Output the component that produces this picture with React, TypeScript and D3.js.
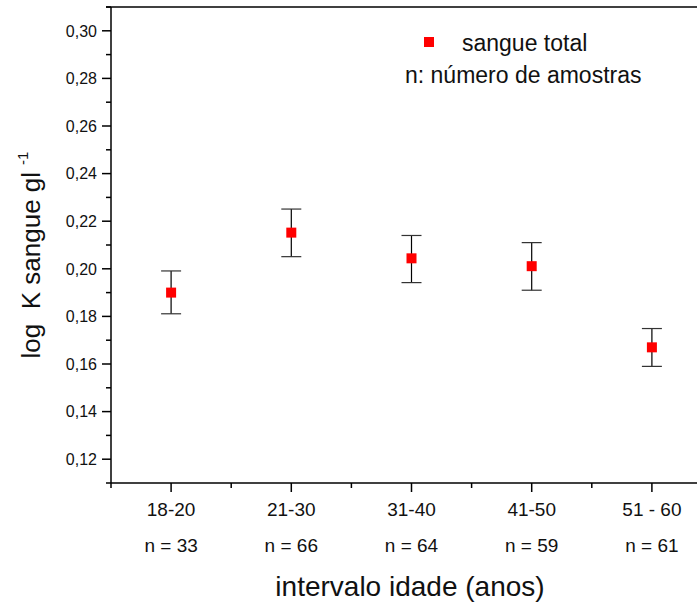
import React from "react";
import * as d3 from "d3";

const categories = ["18-20", "21-30", "31-40", "41-50", "51 - 60"];
const sampleSizes = ["n = 33", "n = 66", "n = 64", "n = 59", "n = 61"];
const means = [0.190, 0.2152, 0.2044, 0.2011, 0.167];
const upper = [0.1991, 0.2251, 0.2140, 0.2110, 0.1749];
const lower = [0.1811, 0.2051, 0.1942, 0.1910, 0.1590];
const yMajorTicks = [0.12, 0.14, 0.16, 0.18, 0.2, 0.22, 0.24, 0.26, 0.28, 0.3];
const yMinorTicks = [0.11, 0.13, 0.15, 0.17, 0.19, 0.21, 0.23, 0.25, 0.27, 0.29, 0.31];
const xMinorTicks = [0.5, 1.5, 2.5, 3.5, 4.5, 5.5];
const legendSeries = "sangue total";
const legendNote = "n: número de amostras";
const xTitle = "intervalo idade (anos)";
const yTitle = "log\u00A0\u00A0K sangue gl";
const yTitleSup = "-1";

const W = 697;
const H = 607;
const left = 111;
const top = 7;
const bottom = 483;
const FONT = "Arial, 'Liberation Sans', Helvetica, sans-serif";

export default function App() {
  const x = d3.scaleLinear().domain([0.5, 5.5]).range([left, 712]);
  const y = d3.scaleLinear().domain([0.11, 0.31]).range([bottom, top]);
  const fmt = (v: number) => d3.format(".2f")(v).replace(".", ",");
  const ms = 10;
  const cap = 10;
  return (
    <svg
      width={W}
      height={H}
      style={{ position: "absolute", left: 0, top: 0, background: "#fff" }}
      fontFamily={FONT}
    >
      <rect width={W} height={H} fill="#fff" />
      {/* frame */}
      <line x1={106} x2={W} y1={top} y2={top} stroke="#000" strokeWidth={1.5} />
      <line x1={left} x2={left} y1={top} y2={bottom} stroke="#000" strokeWidth={1.5} />
      <line x1={left} x2={W} y1={bottom} y2={bottom} stroke="#000" strokeWidth={1.5} />
      {/* y ticks */}
      {yMajorTicks.map((t) => (
        <g key={"ym" + t}>
          <line x1={left - 9} x2={left} y1={y(t)} y2={y(t)} stroke="#000" strokeWidth={1.5} />
          <text x={left - 14} y={y(t)} dy="0.36em" textAnchor="end" fontSize={16} fill="#111">
            {fmt(t)}
          </text>
        </g>
      ))}
      {yMinorTicks.map((t) => (
        <line key={"yn" + t} x1={left - 5} x2={left} y1={y(t)} y2={y(t)} stroke="#000" strokeWidth={1.5} />
      ))}
      {/* x ticks */}
      {categories.map((c, i) => (
        <g key={c}>
          <line x1={x(i + 1)} x2={x(i + 1)} y1={bottom} y2={bottom + 9} stroke="#000" strokeWidth={1.5} />
          <text x={x(i + 1)} y={516} textAnchor="middle" fontSize={19} fill="#111">
            {c}
          </text>
          <text x={x(i + 1)} y={552} textAnchor="middle" fontSize={19} fill="#111">
            {sampleSizes[i]}
          </text>
        </g>
      ))}
      {xMinorTicks.map((t) => (
        <line key={"xn" + t} x1={x(t)} x2={x(t)} y1={bottom} y2={bottom + 5} stroke="#000" strokeWidth={1.5} />
      ))}
      {/* error bars and points */}
      {means.map((m, i) => {
        const cx = x(i + 1);
        return (
          <g key={"p" + i}>
            <line x1={cx} x2={cx} y1={y(upper[i])} y2={y(lower[i])} stroke="#000" strokeWidth={1.2} />
            <line x1={cx - cap} x2={cx + cap} y1={y(upper[i])} y2={y(upper[i])} stroke="#333" strokeWidth={1.2} />
            <line x1={cx - cap} x2={cx + cap} y1={y(lower[i])} y2={y(lower[i])} stroke="#333" strokeWidth={1.2} />
            <rect x={cx - ms / 2} y={y(m) - ms / 2} width={ms} height={ms} fill="#ff0000" />
          </g>
        );
      })}
      {/* legend */}
      <rect x={424} y={37} width={10} height={10} fill="#ff0000" />
      <text x={462} y={51} fontSize={23} fill="#111">{legendSeries}</text>
      <text x={405} y={83} fontSize={23} fill="#111">{legendNote}</text>
      {/* axis titles */}
      <text x={410} y={596} textAnchor="middle" fontSize={28} fill="#111">{xTitle}</text>
      <text transform="translate(40,255) rotate(-90)" textAnchor="middle" fontSize={26} fill="#111">
        {yTitle}
        <tspan dy={-12} dx={7} fontSize={15}>{yTitleSup}</tspan>
      </text>
    </svg>
  );
}
